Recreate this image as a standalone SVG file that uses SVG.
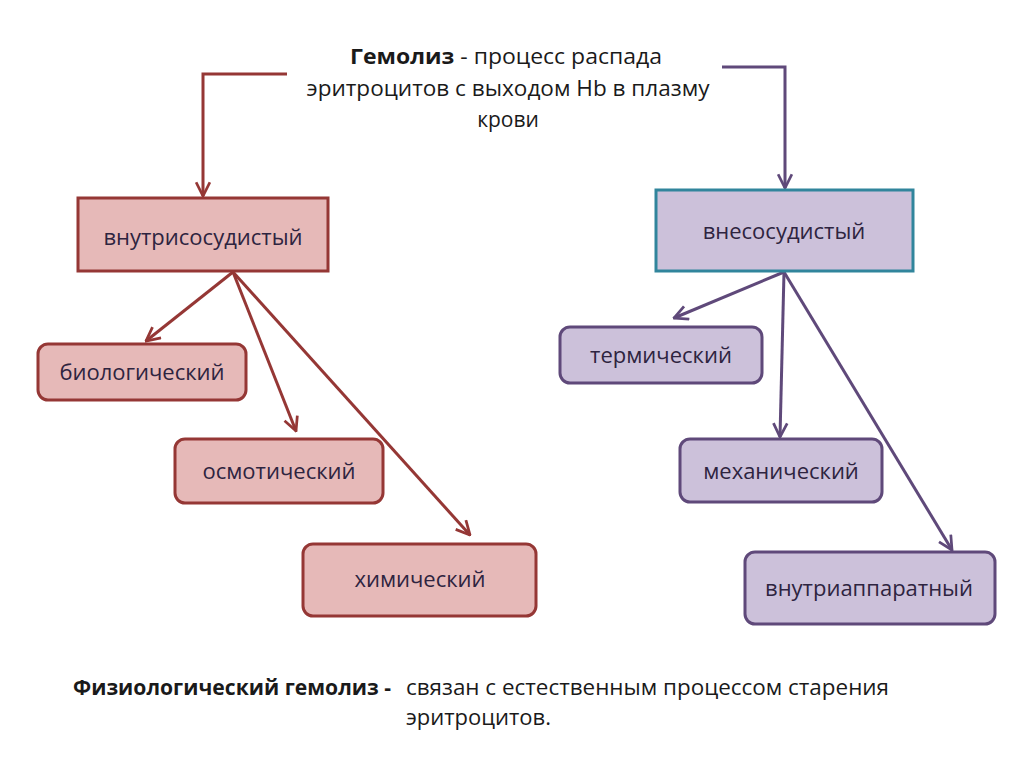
<svg xmlns="http://www.w3.org/2000/svg" width="1024" height="767" viewBox="0 0 1024 767">
<style>
.t{font-family:"Open Sans","Noto Sans","Liberation Sans",sans-serif;font-size:22px;fill:#2e2440;text-anchor:middle}
.h{font-family:"Open Sans","Noto Sans","Liberation Sans",sans-serif;font-size:21px;fill:#1a1a1a}
.red{fill:#e6b9b8;stroke:#953735;stroke-width:3}
.pur{fill:#ccc1da;stroke:#5f497a;stroke-width:3}
.cr{stroke:#953735;stroke-width:3;fill:none}
.cp{stroke:#5f497a;stroke-width:3;fill:none}
</style>
<defs>
<marker id="ar" viewBox="0 0 12 12" refX="11" refY="6" markerWidth="5.5" markerHeight="5.5" markerUnits="strokeWidth" orient="auto">
<path d="M1,1 L11,6 L1,11" fill="none" stroke="#953735" stroke-width="2"/>
</marker>
<marker id="ap" viewBox="0 0 12 12" refX="11" refY="6" markerWidth="5.5" markerHeight="5.5" markerUnits="strokeWidth" orient="auto">
<path d="M1,1 L11,6 L1,11" fill="none" stroke="#5f497a" stroke-width="2"/>
</marker>
</defs>
<rect width="1024" height="767" fill="#ffffff"/>
<g id="title">
<text class="h" x="506" y="64" text-anchor="middle" textLength="312" lengthAdjust="spacingAndGlyphs"><tspan font-weight="bold">Гемолиз</tspan>  - процесс  распада</text>
<text class="h" x="508" y="96" text-anchor="middle" textLength="403" lengthAdjust="spacingAndGlyphs">эритроцитов с выходом Hb  в плазму</text>
<text class="h" x="508" y="127" text-anchor="middle">крови</text>
</g>
<g id="connectors">
<path class="cr" d="M287,74 H203 V196" marker-end="url(#ar)"/>
<path class="cp" d="M722,67 H785 V188" marker-end="url(#ap)"/>
<line class="cr" x1="233" y1="272" x2="146" y2="341" marker-end="url(#ar)"/>
<line class="cr" x1="233" y1="272" x2="296" y2="431" marker-end="url(#ar)"/>
<line class="cr" x1="233" y1="272" x2="470" y2="535" marker-end="url(#ar)"/>
<line class="cp" x1="784" y1="272" x2="674" y2="318" marker-end="url(#ap)"/>
<line class="cp" x1="784" y1="272" x2="780" y2="437" marker-end="url(#ap)"/>
<line class="cp" x1="784" y1="272" x2="952" y2="550" marker-end="url(#ap)"/>
</g>
<g id="intravascular">
<rect class="red" x="78" y="198" width="250" height="73"/>
<text class="t" x="203" y="245">внутрисосудистый</text>
</g>
<g id="extravascular">
<rect x="656" y="190" width="257" height="81" fill="#ccc1da" stroke="#31859c" stroke-width="3"/>
<text class="t" x="784" y="239">внесосудистый</text>
</g>
<g id="biological">
<rect class="red" x="38" y="344" width="208" height="56" rx="10"/>
<text class="t" x="142" y="380">биологический</text>
</g>
<g id="osmotic">
<rect class="red" x="175" y="439" width="208" height="64" rx="10"/>
<text class="t" x="279" y="479">осмотический</text>
</g>
<g id="chemical">
<rect class="red" x="303" y="544" width="233" height="72" rx="10"/>
<text class="t" x="420" y="587">химический</text>
</g>
<g id="thermal">
<rect class="pur" x="560" y="327" width="202" height="56" rx="10"/>
<text class="t" x="661" y="363">термический</text>
</g>
<g id="mechanical">
<rect class="pur" x="680" y="439" width="202" height="63" rx="10"/>
<text class="t" x="781" y="479">механический</text>
</g>
<g id="intraapparatus">
<rect class="pur" x="745" y="552" width="250" height="72" rx="10"/>
<text class="t" x="869" y="596">внутриаппаратный</text>
</g>
<g id="footer">
<text class="h" x="73" y="695" font-weight="bold" textLength="318" lengthAdjust="spacingAndGlyphs">Физиологический гемолиз  -</text>
<text class="h" x="406" y="695" textLength="483" lengthAdjust="spacingAndGlyphs">связан с естественным процессом  старения</text>
<text class="h" x="406" y="725" textLength="145" lengthAdjust="spacingAndGlyphs">эритроцитов.</text>
</g>
</svg>
